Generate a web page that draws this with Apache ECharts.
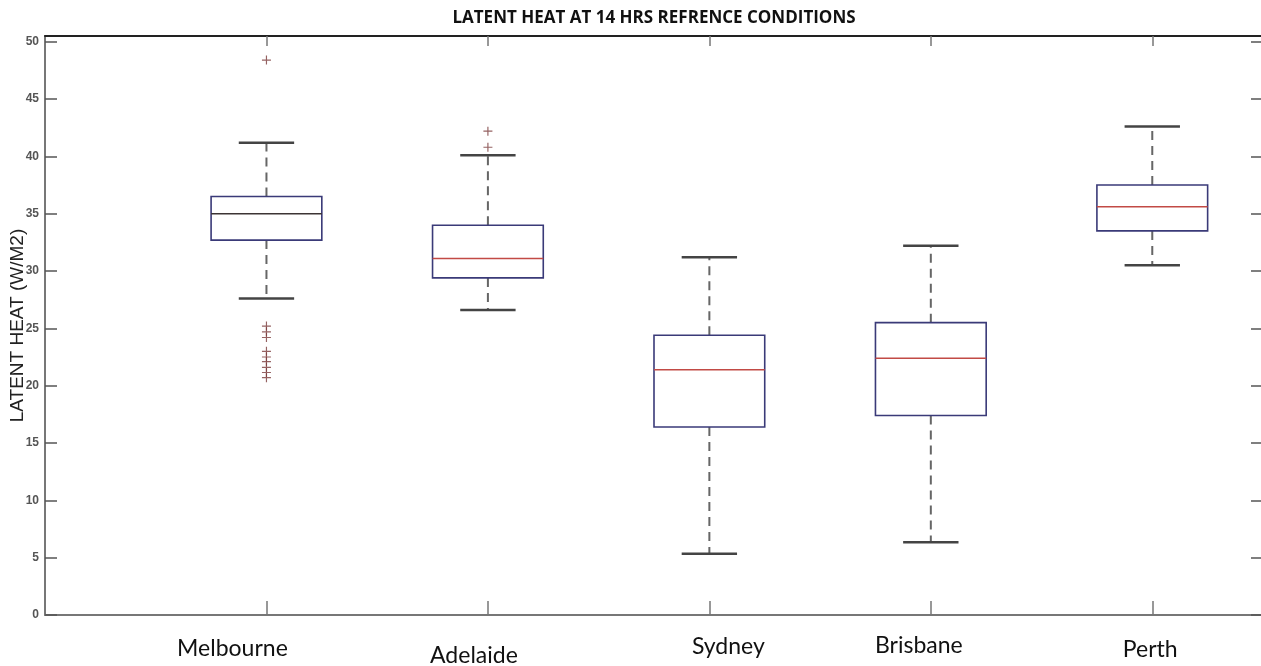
<!DOCTYPE html>
<html>
<head>
<meta charset="utf-8">
<script src="https://cdn.jsdelivr.net/npm/echarts@6/dist/echarts.min.js"></script>
<style>
  html, body { margin: 0; padding: 0; background: #ffffff; }
  #chart { width: 1261px; height: 666px; }
</style>
</head>
<body>
<div id="chart"></div>
<script>
// Station names along the x axis
const cities = ['Melbourne', 'Adelaide', 'Sydney', 'Brisbane', 'Perth'];

// Box statistics per station (W/M2)
const whiskerLow  = [27.6, 26.6, 5.35, 6.35, 30.5];
const quartile1   = [32.7, 29.4, 16.4, 17.4, 33.5];
const medians     = [35.0, 31.1, 21.4, 22.4, 35.6];
const quartile3   = [36.5, 34.0, 24.4, 25.5, 37.5];
const whiskerHigh = [41.2, 40.1, 31.2, 32.2, 42.6];

// Outlying observations
const melbourneOutliers = [48.4, 25.2, 24.7, 24.2, 23.0, 22.5, 22.1, 21.6, 21.15, 20.7];
const adelaideOutliers  = [42.2, 40.8];

// Axis ticks
const yTicks = [0, 5, 10, 15, 20, 25, 30, 35, 40, 45, 50];
const xTicks = [1, 2, 3, 4, 5];

// Small horizontal/vertical nudges for each category label (px)
const labelShift = [
  { dx: -34, dy: 3 },
  { dx: -14, dy: 10 },
  { dx: 19,  dy: 1 },
  { dx: -12, dy: 0 },
  { dx: -2,  dy: 4 }
];

const boxData = cities.map((c, i) => [i + 1, whiskerLow[i], quartile1[i], medians[i], quartile3[i], whiskerHigh[i]]);
const outlierData = []
  .concat(melbourneOutliers.map(v => [1, v]))
  .concat(adelaideOutliers.map(v => [2, v]));

const rich = {};
labelShift.forEach((s, i) => {
  const pad = [s.dy, s.dx < 0 ? -2 * s.dx : 0, 0, s.dx > 0 ? 2 * s.dx : 0];
  rich['c' + i] = {
    fontFamily: 'Lato, "Open Sans", sans-serif',
    fontSize: 23,
    color: '#111',
    padding: pad
  };
});

function renderBox(params, api) {
  const x = api.value(0);
  const pMin = api.coord([x, api.value(1)]);
  const pQ1 = api.coord([x, api.value(2)]);
  const pMed = api.coord([x, api.value(3)]);
  const pQ3 = api.coord([x, api.value(4)]);
  const pMax = api.coord([x, api.value(5)]);
  const boxW = api.size([0.5, 0])[0];
  const capW = api.size([0.25, 0])[0];
  const cx = pMed[0];
  const medianColor = params.dataIndex === 0 ? '#3c3434' : '#c24a45';
  const whiskerStyle = { stroke: '#666', lineWidth: 2, lineDash: [9, 6] };
  const capStyle = { stroke: '#444', lineWidth: 2.5 };
  return {
    type: 'group',
    children: [
      { type: 'line', shape: { x1: cx, y1: pQ3[1], x2: cx, y2: pMax[1] }, style: whiskerStyle },
      { type: 'line', shape: { x1: cx, y1: pQ1[1], x2: cx, y2: pMin[1] }, style: whiskerStyle },
      { type: 'line', shape: { x1: cx - capW / 2, y1: pMax[1], x2: cx + capW / 2, y2: pMax[1] }, style: capStyle },
      { type: 'line', shape: { x1: cx - capW / 2, y1: pMin[1], x2: cx + capW / 2, y2: pMin[1] }, style: capStyle },
      { type: 'rect', shape: { x: cx - boxW / 2, y: pQ3[1], width: boxW, height: pQ1[1] - pQ3[1] },
        style: { fill: '#ffffff', stroke: '#3a3a78', lineWidth: 1.6 } },
      { type: 'line', shape: { x1: cx - boxW / 2, y1: pMed[1], x2: cx + boxW / 2, y2: pMed[1] },
        style: { stroke: medianColor, lineWidth: 1.5 } }
    ]
  };
}

const chart = echarts.init(document.getElementById('chart'), null, { renderer: 'canvas' });

chart.setOption({
  backgroundColor: '#ffffff',
  animation: false,
  title: {
    text: 'LATENT HEAT AT 14 HRS REFRENCE CONDITIONS',
    left: 649,
    top: 5,
    textAlign: 'center',
    textStyle: { fontFamily: '"Open Sans", sans-serif', fontWeight: 'bold', fontSize: 17, color: '#111' }
  },
  grid: { left: 45, top: 36, width: 1218, height: 579, containLabel: false, outerBoundsMode: 'none' },
  xAxis: [
    {
      type: 'value', position: 'bottom', min: 0, max: 5.5,
      splitLine: { show: false },
      axisLine: { show: true, lineStyle: { color: '#777', width: 2 } },
      axisTick: { show: true, inside: true, length: 14, customValues: xTicks, lineStyle: { color: '#777', width: 1.5 } },
      axisLabel: {
        customValues: xTicks, margin: 19,
        formatter: v => '{c' + (v - 1) + '|' + cities[v - 1] + '}',
        rich: rich
      }
    },
    {
      type: 'value', position: 'top', min: 0, max: 5.5,
      splitLine: { show: false },
      axisLine: { show: true, onZero: false, lineStyle: { color: '#222', width: 2 } },
      axisTick: { show: true, inside: true, length: 10, customValues: xTicks, lineStyle: { color: '#777', width: 1.5 } },
      axisLabel: { show: false }
    }
  ],
  yAxis: [
    {
      type: 'value', position: 'left', min: 0, max: 50.5,
      name: 'LATENT HEAT (W/M2)',
      nameLocation: 'middle', nameRotate: 90, nameGap: 18, nameMoveOverlap: false,
      nameTextStyle: { fontFamily: '"Liberation Sans", Arial, sans-serif', fontSize: 19, color: '#222' },
      splitLine: { show: false },
      axisLine: { show: true, onZero: false, lineStyle: { color: '#777', width: 2 } },
      axisTick: { show: true, inside: true, length: 12, customValues: yTicks, lineStyle: { color: '#555', width: 1.5 } },
      axisLabel: {
        customValues: yTicks, margin: 6,
        fontFamily: '"Liberation Sans Narrow", "Liberation Sans", Arial, sans-serif',
        fontWeight: 'bold', fontSize: 12, color: '#555'
      }
    },
    {
      type: 'value', position: 'right', min: 0, max: 50.5,
      splitLine: { show: false },
      axisLine: { show: true, onZero: false, lineStyle: { color: '#777', width: 2 } },
      axisTick: { show: true, inside: true, length: 12, customValues: yTicks, lineStyle: { color: '#555', width: 1.5 } },
      axisLabel: { show: false }
    }
  ],
  series: [
    {
      type: 'custom',
      name: 'Latent heat',
      xAxisIndex: 0, yAxisIndex: 0,
      data: boxData,
      encode: { x: 0, y: [1, 2, 3, 4, 5] },
      renderItem: renderBox,
      z: 2
    },
    {
      type: 'scatter',
      name: 'Outliers',
      xAxisIndex: 0, yAxisIndex: 0,
      data: outlierData,
      symbol: 'path://M-1,-0.13L1,-0.13L1,0.13L-1,0.13ZM-0.13,-1L0.13,-1L0.13,1L-0.13,1Z',
      symbolSize: 9,
      itemStyle: { color: '#7a3b3b' },
      z: 3
    }
  ]
});
</script>
</body>
</html>
